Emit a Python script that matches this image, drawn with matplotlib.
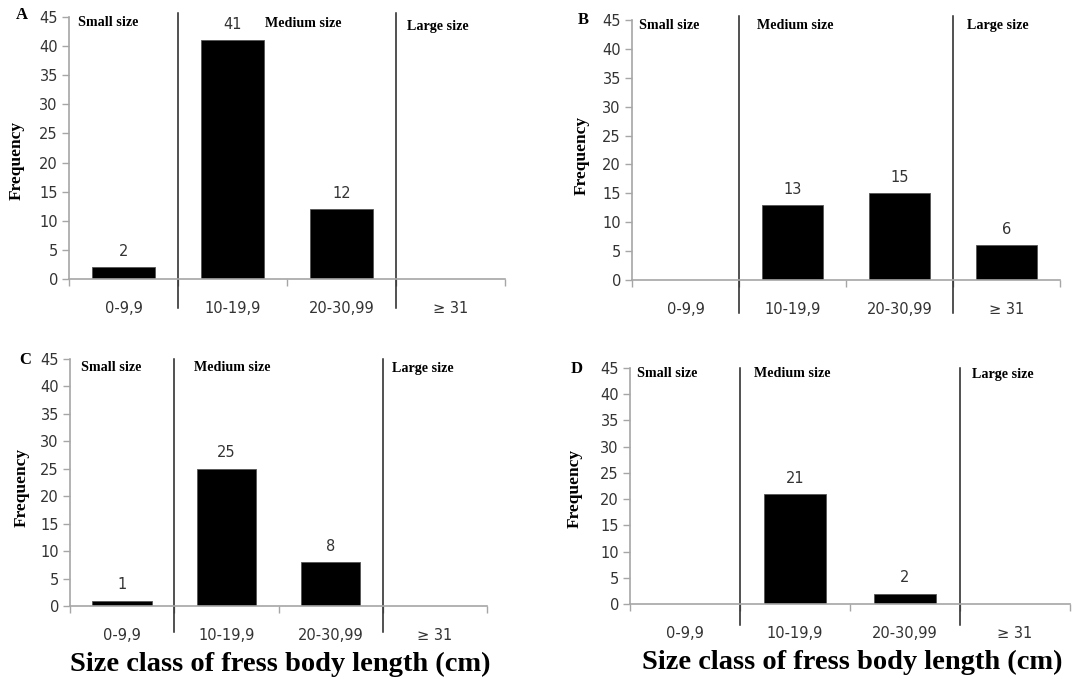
import numpy as np
import matplotlib.pyplot as plt

# size classes and frequencies for the four panels
categories = ['0-9,9', '10-19,9', '20-30,99', '\u2265 31']
freq_a = [2, 41, 12, 0]
freq_b = [0, 13, 15, 6]
freq_c = [1, 25, 8, 0]
freq_d = [0, 21, 2, 0]
panel_letters = ['A', 'B', 'C', 'D']
group_names = ['Small size', 'Medium size', 'Large size']
xlabel = 'Size class of fress body length (cm)'

W, H = 1073, 679
fig = plt.figure(figsize=(W / 100, H / 100), dpi=100)

def px_axes(left, top, right, bottom):
    return fig.add_axes([left / W, 1 - bottom / H, (right - left) / W, (bottom - top) / H])

# layout per panel (pixel boxes, text spots)
layout = [
    dict(box=(69, 17, 505, 279), letter=(22, 15), ylab=(17, 160),
         groups=[(-0.42, 44.1), (1.30, 43.8), (2.60, 43.3)], div=(-0.11, 1.015)),
    dict(box=(632, 20, 1060, 280), letter=(583, 20), ylab=(582, 155),
         groups=[(-0.43, 44.0), (0.67, 44.0), (2.63, 44.0)], div=(-0.127, 1.015)),
    dict(box=(70, 359, 487, 606), letter=(25, 360), ylab=(22, 487),
         groups=[(-0.39, 43.5), (0.69, 43.5), (2.59, 43.2)], div=(-0.105, 1.0)),
    dict(box=(630, 368, 1070, 604), letter=(577, 369), ylab=(575, 488),
         groups=[(-0.44, 44.0), (0.63, 43.9), (2.61, 43.7)], div=(-0.09, 1.0)),
]
freqs = [freq_a, freq_b, freq_c, freq_d]

serif = 'Liberation Serif'
axis_grey = '#a6a6a6'
text_grey = '#333333'

x = np.arange(len(categories))
for i, (vals, lay) in enumerate(zip(freqs, layout)):
    ax = px_axes(*lay['box'])
    ax.bar(x, vals, width=0.57, color='black', edgecolor='#555555', linewidth=0.6)
    for xi, v in zip(x, vals):
        if v > 0:
            ax.annotate(str(v), (xi, v), xytext=(0, 6), textcoords='offset points',
                        ha='center', va='bottom', fontsize=10.5, color=text_grey)
    ax.set_xlim(-0.5, len(categories) - 0.5)
    ax.set_ylim(0, 45)
    ax.set_yticks(range(0, 46, 5))
    ax.set_xticks(x)
    ax.set_xticklabels(categories)
    ax.set_xticks(np.arange(-0.5, len(categories), 1.0), minor=True)
    ax.tick_params(axis='x', which='major', length=0, pad=16, labelsize=10.5, labelcolor=text_grey)
    ax.tick_params(axis='x', which='minor', length=5, color=axis_grey, width=1)
    ax.tick_params(axis='y', length=5, color=axis_grey, width=1, labelsize=10.5,
                   labelcolor=text_grey, pad=3)
    for s in ['top', 'right']:
        ax.spines[s].set_visible(False)
    for s in ['left', 'bottom']:
        ax.spines[s].set_color(axis_grey)
        ax.spines[s].set_linewidth(1.2)

    # dividers between size groups
    lo, hi = lay['div']
    for xd in [0.5, 2.5]:
        ax.plot([xd, xd], [lo, hi], color='#222222', linewidth=1.1,
                transform=ax.get_xaxis_transform(), clip_on=False)

    for name, (gx, gy) in zip(group_names, lay['groups']):
        ax.text(gx, gy, name, ha='left', va='center', fontsize=10.2,
                fontweight='bold', family=serif)

    lx, ly = lay['letter']
    fig.text(lx / W, 1 - ly / H, panel_letters[i], ha='center', va='center',
             fontsize=12, fontweight='bold', family=serif)
    yx, yy = lay['ylab']
    fig.text(yx / W, 1 - yy / H, 'Frequency', ha='center', va='center', rotation=90,
             fontsize=12.5, fontweight='bold', family=serif)

# shared x labels under the bottom row
fig.text(280 / W, 1 - 664 / H, xlabel, ha='center', va='center',
         fontsize=20.5, fontweight='bold', family=serif)
fig.text(852 / W, 1 - 662 / H, xlabel, ha='center', va='center',
         fontsize=20.5, fontweight='bold', family=serif)

fig.savefig('out.png', dpi=100, facecolor='white')
